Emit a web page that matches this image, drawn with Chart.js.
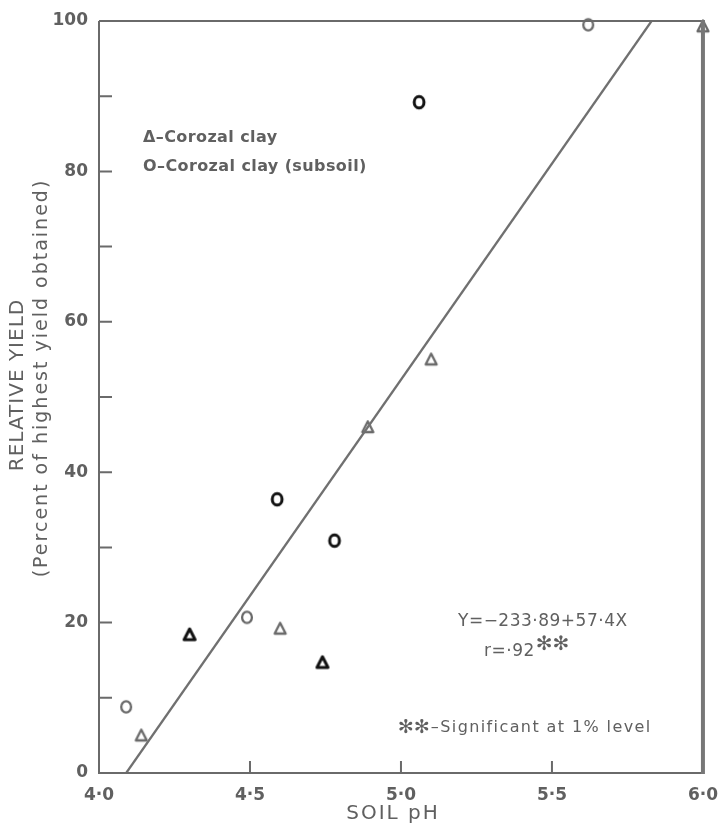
<!DOCTYPE html>
<html>
<head>
<meta charset="utf-8">
<script src="https://cdn.jsdelivr.net/npm/chart.js@4.4.1/dist/chart.umd.min.js"></script>
<style>
  html, body { margin: 0; padding: 0; background: #fff; }
  #wrap { width: 722px; height: 830px; position: relative; }
</style>
</head>
<body>
<div id="wrap"><canvas id="c" width="722" height="830"></canvas></div>
<script>
// ---- Data ----
const clayPH      = [4.14, 4.30, 4.60, 4.74, 4.89, 5.10, 6.00];
const clayYield   = [5.0, 18.4, 19.2, 14.7, 46.0, 55.0, 99.3];
const subsoilPH   = [4.09, 4.49, 4.59, 4.78, 5.06, 5.62];
const subsoilYield= [8.8, 20.7, 36.4, 30.9, 89.2, 99.5];
const fitPH       = [4.09, 5.83];
const fitYield    = [0, 100];
const xTickLabels = ['4·0', '4·5', '5·0', '5·5', '6·0'];
const yTickLabels = ['0', '20', '40', '60', '80', '100'];

const GRAY = '#6a6a6a';
const TXT = '#606060';
const DARK = '#111111';
const FONT = '"DejaVu Sans", sans-serif';

function glyph(kind, color, bold) {
  const c = document.createElement('canvas');
  c.width = 20; c.height = 20;
  const g = c.getContext('2d');
  g.strokeStyle = color;
  g.lineWidth = bold ? 3.0 : 2.3;
  g.lineJoin = 'round';
  if (kind === 'o') {
    g.beginPath();
    g.ellipse(10, 10, 4.9, 5.7, 0, 0, Math.PI * 2);
    g.stroke();
  } else {
    g.beginPath();
    g.moveTo(10, 4.3);
    g.lineTo(15.5, 15);
    g.lineTo(4.5, 15);
    g.closePath();
    g.stroke();
  }
  return c;
}
const triGray = glyph('t', GRAY, false), triDark = glyph('t', DARK, true);
const oGray = glyph('o', GRAY, false), oDark = glyph('o', DARK, true);
const clayStyles = [triGray, triDark, triGray, triDark, triGray, triGray, triGray];
const subsoilStyles = [oGray, oGray, oDark, oDark, oDark, oGray];

const toXY = (xs, ys) => xs.map((x, i) => ({ x: x, y: ys[i] }));

function spaced(ctx, px) { ctx.letterSpacing = px + 'px'; }

const decor = {
  id: 'decor',
  afterDraw(chart) {
    const { ctx, chartArea: a, scales: { x, y } } = chart;
    ctx.save();
    ctx.strokeStyle = GRAY;
    ctx.lineCap = 'butt';
    // frame
    ctx.lineWidth = 2;
    ctx.beginPath();
    ctx.moveTo(a.left, a.top); ctx.lineTo(a.left, a.bottom);
    ctx.moveTo(a.left - 1, a.bottom); ctx.lineTo(a.right, a.bottom);
    ctx.moveTo(a.left, a.top); ctx.lineTo(a.right, a.top);
    ctx.stroke();
    ctx.lineWidth = 4;
    ctx.strokeStyle = '#777';
    ctx.beginPath();
    ctx.moveTo(a.right, a.top - 1); ctx.lineTo(a.right, a.bottom + 1);
    ctx.stroke();
    // inward ticks
    ctx.strokeStyle = GRAY;
    ctx.lineWidth = 2;
    ctx.beginPath();
    y.ticks.forEach(t => {
      if (t.value <= y.min || t.value >= y.max) return;
      const py = y.getPixelForValue(t.value);
      ctx.moveTo(a.left, py); ctx.lineTo(a.left + 13, py);
    });
    x.ticks.forEach(t => {
      if (t.value <= x.min || t.value >= x.max) return;
      const px = x.getPixelForValue(t.value);
      ctx.moveTo(px, a.bottom); ctx.lineTo(px, a.bottom - 12);
    });
    ctx.stroke();

    // texts
    ctx.fillStyle = TXT;
    ctx.textBaseline = 'middle';
    ctx.textAlign = 'left';
    ctx.font = '600 16px ' + FONT;
    spaced(ctx, 0.4);
    ctx.fillText('Δ–Corozal clay', 143, 138);
    ctx.fillText('O–Corozal clay (subsoil)', 143, 167);

    ctx.font = '17px ' + FONT;
    spaced(ctx, 0.5);
    ctx.fillText('Y=−233·89+57·4X', 458, 622);
    ctx.fillText('r=·92', 484, 652);
    const rw = ctx.measureText('r=·92').width;
    spaced(ctx, 0);
    ctx.font = '20px ' + FONT;
    ctx.fillText('✻✻', 484 + rw + 1, 645);

    ctx.font = '19px ' + FONT;
    ctx.fillText('✻✻', 398, 728);
    const aw = ctx.measureText('✻✻').width;
    ctx.font = '16px ' + FONT;
    spaced(ctx, 1.4);
    ctx.fillText('–Significant at 1% level', 398 + aw + 1, 728);

    // axis titles
    ctx.textAlign = 'center';
    ctx.font = '20px ' + FONT;
    spaced(ctx, 2);
    ctx.fillText('SOIL pH', 393, 814);
    ctx.save();
    ctx.translate(18, 385);
    ctx.rotate(-Math.PI / 2);
    ctx.font = '20px ' + FONT;
    spaced(ctx, 1);
    ctx.fillText('RELATIVE YIELD', 0, 0);
    ctx.restore();
    ctx.save();
    ctx.translate(42, 378);
    ctx.rotate(-Math.PI / 2);
    ctx.font = '19px ' + FONT;
    spaced(ctx, 2);
    ctx.fillText('(Percent of highest yield obtained)', 0, 0);
    ctx.restore();
    ctx.restore();
  }
};

Chart.defaults.font.family = FONT;
Chart.defaults.color = TXT;

new Chart(document.getElementById('c'), {
  type: 'scatter',
  data: {
    datasets: [
      {
        label: 'Regression',
        type: 'line',
        data: toXY(fitPH, fitYield),
        borderColor: '#707070',
        borderWidth: 2.2,
        pointRadius: 0,
        fill: false,
        clip: false
      },
      {
        label: 'Corozal clay',
        data: toXY(clayPH, clayYield),
        pointStyle: clayStyles,
        pointRadius: 10,
        clip: false
      },
      {
        label: 'Corozal clay (subsoil)',
        data: toXY(subsoilPH, subsoilYield),
        pointStyle: subsoilStyles,
        pointRadius: 10,
        clip: false
      }
    ]
  },
  options: {
    responsive: false,
    animation: false,
    events: [],
    layout: { padding: { left: 0, right: 16, top: 21, bottom: 0 } },
    plugins: { legend: { display: false }, tooltip: { enabled: false } },
    scales: {
      x: {
        type: 'linear',
        min: 4, max: 6,
        grid: { display: false },
        border: { display: false },
        ticks: {
          stepSize: 0.5,
          padding: 4,
          font: { size: 17, weight: '600' },
          color: TXT,
          maxRotation: 0,
          callback: (v) => xTickLabels[Math.round((v - 4) / 0.5)] ?? ''
        },
        afterFit: (s) => { s.height = 57; }
      },
      y: {
        type: 'linear',
        min: 0, max: 100,
        grid: { display: false },
        border: { display: false },
        ticks: {
          stepSize: 10,
          padding: 3,
          font: { size: 17, weight: '600' },
          color: TXT,
          callback: (v) => (v % 20 === 0 ? yTickLabels[v / 20] : '')
        },
        afterFit: (s) => { s.width = 99; }
      }
    }
  },
  plugins: [decor]
});
</script>
</body>
</html>
